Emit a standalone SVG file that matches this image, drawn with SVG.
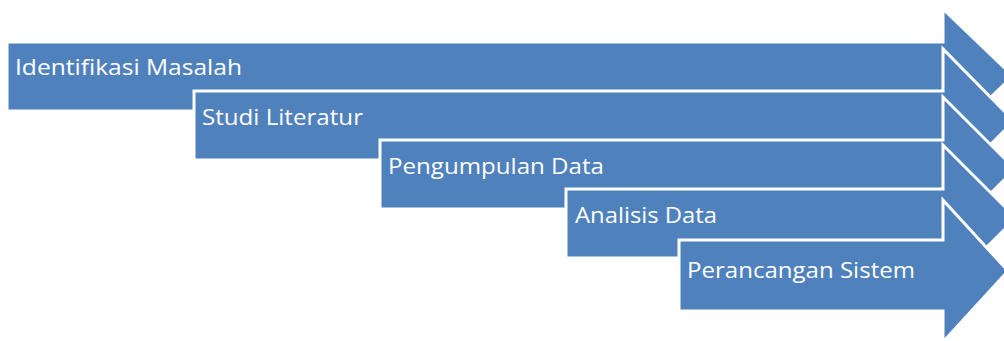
<svg xmlns="http://www.w3.org/2000/svg" width="1004" height="341" viewBox="0 0 1004 341">
  <style>
    .arrow { fill: #4f81bd; stroke: #ffffff; stroke-width: 3; stroke-linejoin: miter; }
    .label { fill: #ffffff; font-family: "Open Sans", "Lato", "Liberation Sans", sans-serif; font-size: 21px; }
  </style>
  <rect width="1004" height="341" fill="#ffffff"/>

  <!-- staggered process steps, each drawn over the previous one -->
  <g id="step-1">
    <polygon class="arrow" points="7,42 943,42 943,9 1013,76 943,143 943,111 7,111"/>
    <text class="label" x="15" y="75" textLength="227" lengthAdjust="spacingAndGlyphs">Identifikasi Masalah</text>
  </g>

  <g id="step-2">
    <polygon class="arrow" points="194,91 943,91 943,49 1014,121 943,192 943,160 194,160"/>
    <text class="label" x="202" y="125" textLength="161" lengthAdjust="spacingAndGlyphs">Studi Literatur</text>
  </g>

  <g id="step-3">
    <polygon class="arrow" points="380,140 943,140 943,97 1015,169 943,241 943,209 380,209"/>
    <text class="label" x="388" y="174" textLength="216" lengthAdjust="spacingAndGlyphs">Pengumpulan Data</text>
  </g>

  <g id="step-4">
    <polygon class="arrow" points="566,189 943,189 943,145 1016,218 943,291 943,258 566,258"/>
    <text class="label" x="575" y="223" textLength="142" lengthAdjust="spacingAndGlyphs">Analisis Data</text>
  </g>

  <g id="step-5">
    <polygon class="arrow" points="679,240 943,240 943,200 1008,271 943,342 943,311 679,311"/>
    <text class="label" x="687" y="278" textLength="228" lengthAdjust="spacingAndGlyphs">Perancangan Sistem</text>
  </g>
</svg>
